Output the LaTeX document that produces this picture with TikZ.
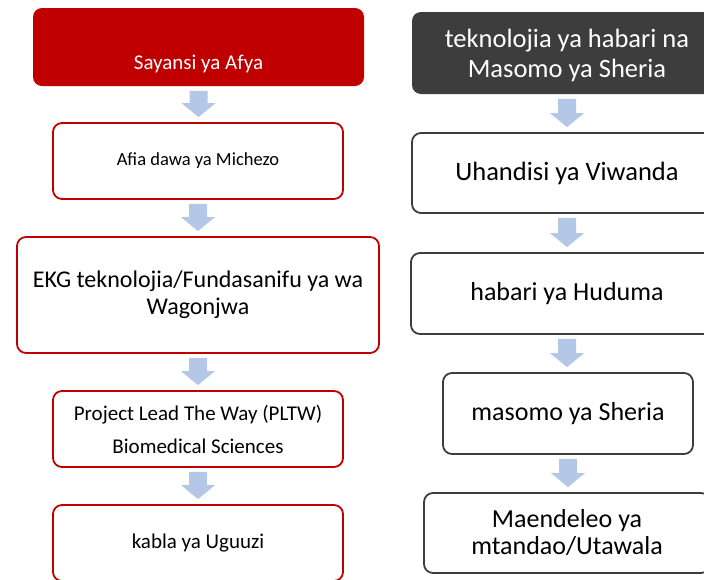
\documentclass[tikz,border=0pt]{standalone}
\usepackage{fontspec}
\setmainfont{Carlito}
\usetikzlibrary{calc}
\definecolor{redfill}{HTML}{C00000}
\definecolor{darkfill}{HTML}{3D3D3D}
\definecolor{arrowcol}{HTML}{B4C7E7}
\newcommand\blockarrow[2]{%
  \fill[arrowcol] let \p1=(#1.south), \p2=(#2.north),
    \n1={\y1-4pt}, \n2={\y2+5pt}, \n3={\y2+19pt} in
    (\x1-9pt,\n1) -- (\x1+9pt,\n1) -- (\x1+9pt,\n3) -- (\x1+17pt,\n3)
    -- (\x1,\n2) -- (\x1-17pt,\n3) -- (\x1-9pt,\n3) -- cycle;}
\begin{document}
\begin{tikzpicture}[x=1pt,y=-1pt,
  box/.style={rounded corners=9pt, line width=1.8pt, align=center, inner sep=2pt},
  redbox/.style={box, draw=redfill, fill=white, text=black},
  graybox/.style={box, draw=darkfill, fill=white, text=black}]
\useasboundingbox (0,0) rectangle (704,579);
\clip (0,0) rectangle (704,579);
% left column
\node[box, fill=redfill, text=white, minimum width=331pt, minimum height=78pt, font=\fontsize{21}{25}\selectfont]
  (L1) at (198.5,47) {\raisebox{-22pt}[0pt][0pt]{Sayansi ya Afya}};
\node[redbox, minimum width=290pt, minimum height=76pt, font=\fontsize{18.5}{22}\selectfont]
  (L2) at (198,161) {Afia dawa ya Michezo};
\node[redbox, minimum width=362pt, minimum height=116pt, font=\fontsize{24}{27}\selectfont]
  (L3) at (198,295) {EKG teknolojia/Fundasanifu ya wa\\Wagonjwa};
\node[redbox, minimum width=290pt, minimum height=76pt, font=\fontsize{21}{33}\selectfont]
  (L4) at (198,429) {Project Lead The Way (PLTW)\\Biomedical Sciences};
\node[redbox, minimum width=290pt, minimum height=76pt, font=\fontsize{21}{25}\selectfont]
  (L5) at (198,543) {kabla ya Uguuzi};
% right column
\node[box, fill=darkfill, text=white, minimum width=310pt, minimum height=82pt, font=\fontsize{26.5}{30}\selectfont]
  (R1) at (567,53) {\raisebox{-3pt}[\height][\depth]{\begin{tabular}{@{}c@{}}teknolojia ya habari na\\Masomo ya Sheria\end{tabular}}};
\node[graybox, minimum width=310pt, minimum height=80pt, font=\fontsize{26.5}{30}\selectfont]
  (R2) at (567,173) {Uhandisi ya Viwanda};
\node[graybox, minimum width=312pt, minimum height=81pt, font=\fontsize{26}{30}\selectfont]
  (R3) at (567,293.5) {habari ya Huduma};
\node[graybox, minimum width=250pt, minimum height=81pt, font=\fontsize{26}{30}\selectfont]
  (R4) at (568,413.5) {masomo ya Sheria};
\node[graybox, minimum width=286pt, minimum height=80pt, font=\fontsize{26}{27}\selectfont]
  (R5) at (567,533) {Maendeleo ya\\mtandao/Utawala};
% arrows
\blockarrow{L1}{L2}
\blockarrow{L2}{L3}
\blockarrow{L3}{L4}
\blockarrow{L4}{L5}
\blockarrow{R1}{R2}
\blockarrow{R2}{R3}
\blockarrow{R3}{R4}
\blockarrow{R4}{R5}
\end{tikzpicture}
\end{document}
